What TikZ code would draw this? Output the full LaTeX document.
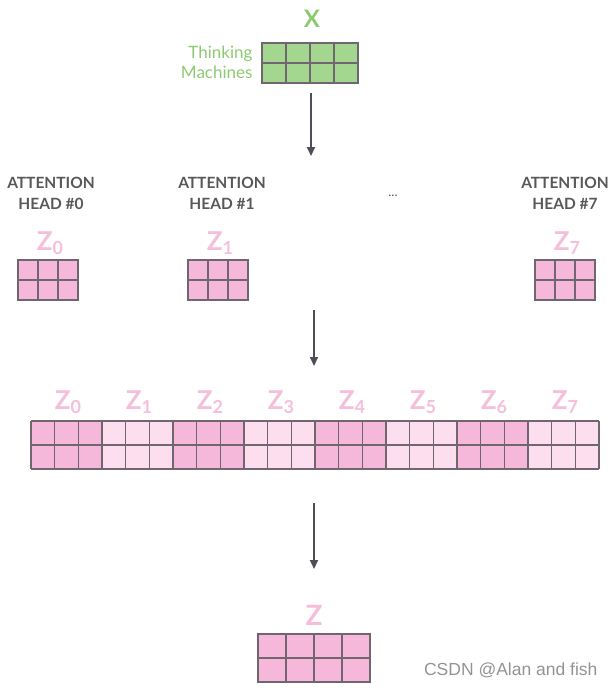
\documentclass[tikz,border=0pt]{standalone}
\usepackage{fontspec}
\setmainfont{Lato}
\newfontfamily\wmfont{Liberation Sans}
\usetikzlibrary{arrows.meta, positioning}

\definecolor{xgreen}{RGB}{163,214,142}
\definecolor{xtext}{RGB}{140,202,112}
\definecolor{zdark}{RGB}{245,184,218}
\definecolor{zlight}{RGB}{252,222,238}
\definecolor{zlab}{RGB}{245,190,218}
\definecolor{gridline}{RGB}{112,102,112}
\definecolor{headgray}{RGB}{88,88,88}
\definecolor{arrgray}{RGB}{78,78,88}

\newcommand{\zsub}[1]{\raisebox{-3.5pt}{\fontsize{18}{18}\selectfont #1}}

\begin{document}
\begin{tikzpicture}[x=1pt, y=-1pt,
		cell/.style={draw=gridline, line width=1.2pt},
		headlabel/.style={text=headgray, align=center, font=\bfseries\fontsize{15.5}{21}\selectfont},
		zlabel/.style={text=zlab, font=\bfseries\fontsize{26}{26}\selectfont, inner sep=0pt},
		arr/.style={draw=arrgray, line width=2pt, -{Triangle[width=8pt,length=9pt]}}]
	\useasboundingbox (0,0) rectangle (614,688);

	% input X
	\node[text=xtext, font=\bfseries\fontsize{24}{24}\selectfont] (xlabel) at (312,19) {X};
	\node[text=xtext, align=right, anchor=east, font=\fontsize{17}{20}\selectfont] (words) at (256,62) {Thinking\\Machines};
	\foreach \i in {0,...,3}
		\foreach \j in {0,1}
			\draw[cell, fill=xgreen] (262+24*\i, 43+20*\j) rectangle ++(24,20);

	\coordinate (a1s) at (311,93);
	\coordinate (a1e) at (311,156);
	\draw[arr] (a1s) -- (a1e);

	% attention heads
	\node[headlabel] (head0) at (51,193) {ATTENTION\\HEAD \#0};
	\node[headlabel] (head1) at (222,193) {ATTENTION\\HEAD \#1};
	\node[headlabel] (head7) at (565,193) {ATTENTION\\HEAD \#7};
	\node[text=headgray, font=\fontsize{13}{13}\selectfont] (dots) at (393,196) {...};

	\foreach \x/\k/\nm in {18/0/z0, 188/1/z1, 535/7/z7} {
		\node[zlabel] (\nm) at (\x+32,243) {Z\zsub{\k}};
		\foreach \i in {0,1,2}
			\foreach \j in {0,1}
				\draw[cell, fill=zdark] (\x+20*\i, 260+20*\j) rectangle ++(20,20);
	}

	\coordinate (a2s) at (314,310);
	\coordinate (a2e) at (314,366);
	\draw[arr] (a2s) -- (a2e);

	% concatenated heads
	\foreach \g/\tone in {0/zdark, 1/zlight, 2/zdark, 3/zlight, 4/zdark, 5/zlight, 6/zdark, 7/zlight} {
		\node[zlabel] (cat\g) at (31+71*\g+37,402) {Z\zsub{\g}};
		\fill[\tone] (31+71*\g, 421) rectangle ++(71,48);
	}
	\foreach \c in {0,...,24}
		\draw[cell] (31+71*\c/3, 421) -- ++(0,48);
	\foreach \r in {0,1,2}
		\draw[cell] (31, 421+24*\r) -- ++(568,0);

	\coordinate (a3s) at (314,503);
	\coordinate (a3e) at (314,569);
	\draw[arr] (a3s) -- (a3e);

	% output Z
	\node[zlabel, font=\bfseries\fontsize{28}{28}\selectfont] (zout) at (314,615) {Z};
	\foreach \i in {0,...,3}
		\foreach \j in {0,1}
			\draw[cell, fill=zdark] (258+28*\i, 634+24*\j) rectangle ++(28,24);

	\node[text=gray!85, font=\wmfont\fontsize{17.5}{17.5}\selectfont, anchor=east] (mark) at (601,670) {CSDN @Alan and fish};
\end{tikzpicture}
\end{document}
